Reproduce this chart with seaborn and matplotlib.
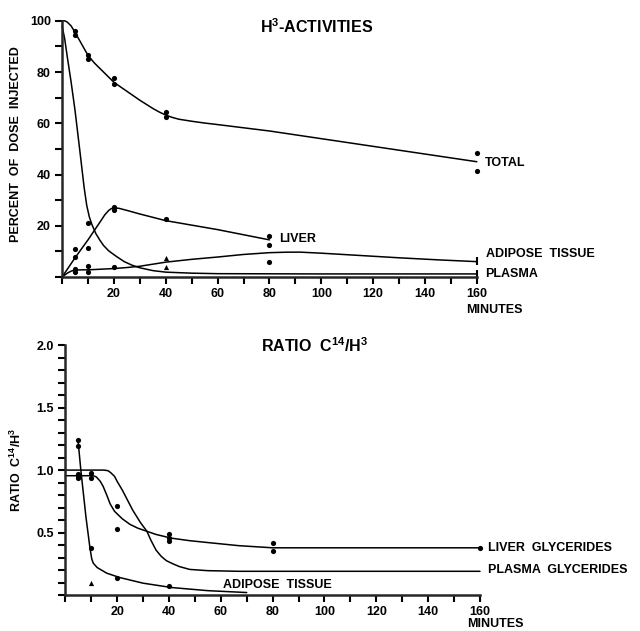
import matplotlib
matplotlib.use('Agg')
import matplotlib.pyplot as plt
import seaborn as sns
import pandas as pd
from matplotlib.ticker import MultipleLocator, FixedLocator

# ---------------- Top panel: H3-activities (percent of dose injected) ----------------
total_curve_x = [0, 1, 2, 3.5, 5, 7.5, 10, 12.5, 15, 17.5, 20, 25, 30, 35, 37.5, 40, 42.5, 45, 50, 55, 60, 80, 100, 130, 160]
total_curve_y = [100, 100, 99.5, 98, 95.5, 91, 86.5, 83.5, 81, 78.5, 76, 72.5, 69, 65.8, 64.4, 63.2, 62.3, 61.6, 60.8, 60.1, 59.5, 57, 54, 49.5, 45]
plasma_curve_x = [0, 1, 2, 3.5, 5, 7, 8.5, 9.5, 10.5, 11.5, 13, 14.5, 16, 18, 21, 24, 27, 30, 35, 40, 50, 60, 100, 160]
plasma_curve_y = [98, 93, 86, 76, 65, 48, 35, 28, 23.5, 20.5, 17, 14.5, 12.3, 10.2, 8, 6, 4.6, 3.6, 2.5, 1.9, 1.5, 1.3, 1.2, 1.2]
liver_curve_x = [0, 5, 10, 13, 15, 16.5, 18, 19, 20, 22, 25, 30, 40, 60, 80]
liver_curve_y = [0, 7.5, 14.5, 19, 22, 24.3, 26, 26.7, 27, 26.8, 26, 24.6, 22, 18.5, 14.5]
adipose_curve_x = [0, 2, 3.5, 5, 7.5, 10, 20, 25, 30, 35, 40, 50, 60, 70, 80, 87, 92, 100, 115, 130, 145, 160]
adipose_curve_y = [0, 1.5, 2.3, 2.7, 2.8, 2.8, 3.3, 3.7, 4.2, 5.0, 5.8, 6.9, 7.8, 8.8, 9.5, 9.7, 9.7, 9.3, 8.4, 7.5, 6.7, 6.0]

total_pts_x = [5, 5, 10, 10, 20, 20, 40, 40, 160, 160]
total_pts_y = [96, 94.5, 86.5, 85, 77.5, 75.5, 64.5, 62.5, 48.5, 41.5]
liver_pts_x = [5, 5, 10, 20, 20, 40, 80, 80]
liver_pts_y = [10.8, 7.7, 11.3, 27.2, 26, 22.5, 16, 12.5]
plasma_pts_x = [10]
plasma_pts_y = [21]
adipose_pts_x = [5, 5, 10, 10, 20, 80]
adipose_pts_y = [3.1, 2.0, 4.3, 2.0, 4.0, 6.0]
adipose_tri_x = [40, 40]
adipose_tri_y = [7.3, 4.0]
end_bar_x = [160, 160]
end_bar_y = [6.2, 1.2]

top_x_ticks = [20, 40, 60, 80, 100, 120, 140, 160]
top_y_ticks = [20, 40, 60, 80, 100]

# ---------------- Bottom panel: ratio C14/H3 ----------------
liverg_curve_x = [0, 10.8, 12, 13.5, 14.6, 16, 17.3, 19, 22, 25, 28, 31.5, 35, 41, 48, 55, 67, 80, 120, 160]
liverg_curve_y = [0.955, 0.955, 0.945, 0.91, 0.87, 0.8, 0.73, 0.67, 0.61, 0.565, 0.535, 0.51, 0.485, 0.455, 0.435, 0.42, 0.395, 0.378, 0.378, 0.378]
plasmag_curve_x = [0, 15, 16.5, 17.5, 19, 20, 22, 26, 29, 31.5, 33, 35, 37, 39, 41.5, 44, 48, 55, 67, 100, 160]
plasmag_curve_y = [1.0, 1.0, 0.995, 0.98, 0.95, 0.91, 0.84, 0.68, 0.58, 0.51, 0.44, 0.36, 0.31, 0.275, 0.25, 0.228, 0.205, 0.195, 0.19, 0.19, 0.19]
adiposeg_curve_x = [5, 6, 8, 9.5, 10.2, 10.8, 12.3, 16, 21, 30, 41, 55, 70]
adiposeg_curve_y = [1.22, 1.0, 0.62, 0.38, 0.29, 0.255, 0.22, 0.175, 0.14, 0.095, 0.06, 0.035, 0.02]

liverg_pts_x = [5, 5, 5, 10, 10, 20, 20, 40, 40, 40, 80, 80, 160]
liverg_pts_y = [0.97, 0.95, 0.935, 0.98, 0.94, 0.71, 0.53, 0.49, 0.46, 0.43, 0.42, 0.35, 0.38]
adiposeg_pts_x = [5, 5, 10, 20, 40]
adiposeg_pts_y = [1.24, 1.19, 0.38, 0.14, 0.07]
adiposeg_tri_x = [10]
adiposeg_tri_y = [0.10]

bot_x_ticks = [20, 40, 60, 80, 100, 120, 140, 160]
bot_y_ticks = [0.5, 1.0, 1.5, 2.0]
bot_y_labels = ['0.5', '1.0', '1.5', '2.0']

# ---------------- Drawing ----------------
sns.set_theme(style='ticks')
plt.rcParams['font.family'] = ['Liberation Sans', 'DejaVu Sans']
plt.rcParams['font.weight'] = 'bold'
plt.rcParams['mathtext.default'] = 'regular'

fig = plt.figure(figsize=(6.4, 6.31), dpi=100)
ax1 = fig.add_axes([0.097, 0.561, 0.648, 0.406])
ax2 = fig.add_axes([0.102, 0.057, 0.648, 0.396])

LW = 1.1
K = 'black'


def curve(ax, xs, ys):
    sns.lineplot(x=xs, y=ys, ax=ax, color=K, lw=LW, sort=False, estimator=None, clip_on=False)


def pts(ax, xs, ys, marker='o', s=14):
    sns.scatterplot(x=xs, y=ys, ax=ax, color=K, marker=marker, s=s, linewidth=0, clip_on=False, zorder=5)


curve(ax1, total_curve_x, total_curve_y)
curve(ax1, plasma_curve_x, plasma_curve_y)
curve(ax1, liver_curve_x, liver_curve_y)
curve(ax1, adipose_curve_x, adipose_curve_y)
pts(ax1, total_pts_x, total_pts_y)
pts(ax1, liver_pts_x, liver_pts_y)
pts(ax1, plasma_pts_x, plasma_pts_y)
pts(ax1, adipose_pts_x, adipose_pts_y)
pts(ax1, adipose_tri_x, adipose_tri_y, marker='^', s=14)
sns.scatterplot(x=end_bar_x, y=end_bar_y, ax=ax1, color=K, marker='|', s=30, linewidth=1.5, clip_on=False)

curve(ax2, liverg_curve_x, liverg_curve_y)
curve(ax2, plasmag_curve_x, plasmag_curve_y)
curve(ax2, adiposeg_curve_x, adiposeg_curve_y)
pts(ax2, liverg_pts_x, liverg_pts_y)
pts(ax2, adiposeg_pts_x, adiposeg_pts_y)
pts(ax2, adiposeg_tri_x, adiposeg_tri_y, marker='^', s=14)

for ax in (ax1, ax2):
    sns.despine(ax=ax)
    ax.spines['left'].set_linewidth(1.8)
    ax.spines['bottom'].set_linewidth(1.8)
    ax.set_xlim(0, 160)
    ax.xaxis.set_minor_locator(MultipleLocator(10))
    ax.tick_params(which='both', direction='out', length=5, width=1.5, color=K,
                   labelsize=9, pad=3, labelcolor=K)
    ax.set_xlabel('')
    ax.grid(False)

ax1.set_ylim(0, 100)
ax1.xaxis.set_major_locator(FixedLocator(top_x_ticks))
ax1.yaxis.set_major_locator(FixedLocator(top_y_ticks))
ax1.yaxis.set_minor_locator(MultipleLocator(10))
ax1.set_xticklabels([str(v) for v in top_x_ticks], fontweight='bold')
ax1.set_yticklabels([str(v) for v in top_y_ticks], fontweight='bold')
ax1.set_ylabel('PERCENT  OF  DOSE  INJECTED', fontsize=9, fontweight='bold', color=K)
ax1.yaxis.set_label_coords(-0.096, 0.52)

ax2.set_ylim(0, 2.0)
ax2.xaxis.set_major_locator(FixedLocator(bot_x_ticks))
ax2.yaxis.set_major_locator(FixedLocator(bot_y_ticks))
ax2.yaxis.set_minor_locator(MultipleLocator(0.1))
ax2.set_xticklabels([str(v) for v in bot_x_ticks], fontweight='bold')
ax2.set_yticklabels(bot_y_labels, fontweight='bold')
ax2.set_ylabel('RATIO  C$^{14}$/H$^{3}$', fontsize=9, fontweight='bold', color=K)
ax2.yaxis.set_label_coords(-0.10, 0.5)

tk = dict(color=K, fontweight='bold', clip_on=False)
ax1.text(98, 97.6, 'H$^{3}$-ACTIVITIES', ha='center', va='center', fontsize=11.5, **tk)
ax1.text(163.2, 44.5, 'TOTAL', ha='left', va='center', fontsize=9, **tk)
ax1.text(83.6, 14.8, 'LIVER', ha='left', va='center', fontsize=9, **tk)
ax1.text(163.6, 9.0, 'ADIPOSE  TISSUE', ha='left', va='center', fontsize=9, **tk)
ax1.text(163.2, 1.2, 'PLASMA', ha='left', va='center', fontsize=9, **tk)
ax1.text(166.7, -13, 'MINUTES', ha='center', va='center', fontsize=9, **tk)

ax2.text(96, 2.0, 'RATIO  C$^{14}$/H$^{3}$', ha='center', va='center', fontsize=11.5, **tk)
ax2.text(163, 0.375, 'LIVER  GLYCERIDES', ha='left', va='center', fontsize=9, **tk)
ax2.text(163, 0.2, 'PLASMA  GLYCERIDES', ha='left', va='center', fontsize=9, **tk)
ax2.text(60.7, 0.08, 'ADIPOSE  TISSUE', ha='left', va='center', fontsize=9, **tk)
ax2.text(166, -0.235, 'MINUTES', ha='center', va='center', fontsize=9, **tk)

fig.savefig('out.png', dpi=100, facecolor='white')
